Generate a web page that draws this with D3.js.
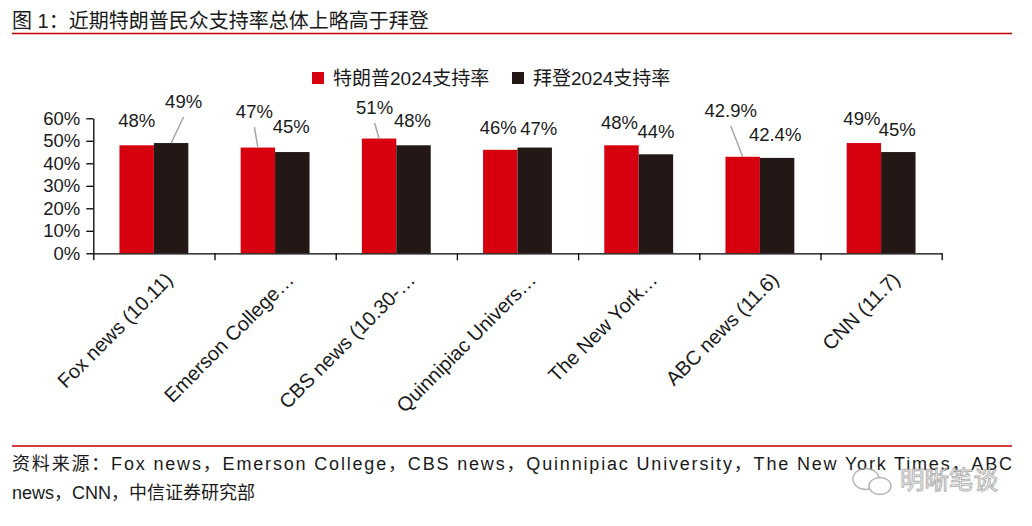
<!DOCTYPE html>
<html>
<head>
<meta charset="utf-8">
<script src="https://cdn.jsdelivr.net/npm/d3@7"></script>
<style>
  body { margin: 0; background: #fff; }
  svg text { font-family: 'Liberation Sans', Arial, 'Noto Sans CJK SC', sans-serif; }
  .cjk { font-family: 'Liberation Sans', 'Noto Sans CJK SC', sans-serif; }
</style>
</head>
<body>
<div id="chart"></div>
<script>
// Chart data
const categories = [
  'Fox news (10.11)', 'Emerson College…', 'CBS news (10.30-…', 'Quinnipiac Univers…',
  'The New York…', 'ABC news (11.6)', 'CNN (11.7)'
];
const seriesNames = ['特朗普2024支持率', '拜登2024支持率'];
const trumpValues = [0.48, 0.47, 0.51, 0.46, 0.48, 0.429, 0.49];
const bidenValues = [0.49, 0.45, 0.48, 0.47, 0.44, 0.424, 0.45];
const yTicks = [0, 0.1, 0.2, 0.3, 0.4, 0.5, 0.6];

const width = 1032;
const height = 526;
const colors = ['#d7000f', '#231815'];

// hand placed label nudges [dx, dy] and leader flags, per series
const labelNudge = [
  [[0, -6.5], [-3.5, -17.5], [-4.5, -12.6], [-2, -3.5], [-2, -4.5], [-12, -28], [-2, -6]],
  [[12.5, -23], [-1, -7], [-1, -6], [4, -1], [0, -4], [-2, -5], [-1, -4]]
];
const leader = [
  [false, true, true, false, false, true, false],
  [true, false, false, false, false, false, false]
];

const svg = d3.select('#chart')
  .append('svg')
  .attr('width', width)
  .attr('height', height)
  .attr('viewBox', [0, 0, width, height]);

// Title + red rules
svg.append('text')
  .attr('class', 'cjk')
  .attr('x', 12).attr('y', 28)
  .style('font-size', '20px')
  .attr('fill', '#1a1a1a')
  .text('图 1：近期特朗普民众支持率总体上略高于拜登');
svg.append('line')
  .attr('x1', 12).attr('x2', 1012).attr('y1', 33.5).attr('y2', 33.5)
  .attr('stroke', '#c00000').attr('stroke-width', 1.5);
svg.append('line')
  .attr('x1', 12).attr('x2', 1012).attr('y1', 446).attr('y2', 446)
  .attr('stroke', '#c00000').attr('stroke-width', 1.5);

// Scales
const x = d3.scaleBand().domain(categories).range([93.3, 941.7]).padding(0);
const xs = d3.scaleBand().domain([0, 1]).range([0, x.bandwidth()]).paddingOuter(0.76).paddingInner(0);
const y = d3.scaleLinear().domain([0, 0.6]).range([253.3, 118.3]);
const xEdge = d3.scaleLinear().domain([0, categories.length]).range(x.range());

const series = [trumpValues, bidenValues];

// Bars
series.forEach((vals, s) => {
  svg.append('g')
    .selectAll('rect')
    .data(vals)
    .join('rect')
    .attr('x', (d, i) => x(categories[i]) + xs(s))
    .attr('y', (d) => y(d))
    .attr('width', xs.bandwidth())
    .attr('height', (d) => y(0) - y(d))
    .attr('fill', colors[s]);
});

// Axes
const yAxis = svg.append('g')
  .attr('transform', 'translate(93.3,0)')
  .call(d3.axisLeft(y).tickValues(yTicks).tickFormat(d3.format('.0%')).tickSize(7).tickSizeOuter(0).tickPadding(6));
const xAxis = svg.append('g')
  .attr('transform', 'translate(0,253.3)')
  .call(d3.axisBottom(xEdge).tickValues(d3.range(categories.length + 1)).tickFormat('').tickSize(7).tickSizeOuter(0));
[yAxis, xAxis].forEach((g) => {
  g.select('.domain').attr('stroke', '#000').attr('stroke-width', 1.3);
  g.selectAll('.tick line').attr('stroke', '#000').attr('stroke-width', 1.3);
});
yAxis.selectAll('.tick text')
  .style('font-size', '18.5px')
  .attr('fill', '#1a1a1a');

// rotated category labels
svg.append('g')
  .selectAll('text')
  .data(categories)
  .join('text')
  .attr('transform', (d) => 'translate(' + (x(d) + x.bandwidth() / 2 + 20) + ',281) rotate(-45)')
  .attr('text-anchor', 'end')
  .style('font-size', '20px')
  .attr('fill', '#1a1a1a')
  .text((d) => d);

// Data labels and leader lines
const fmt = (v) => {
  const p = Math.round(v * 1000) / 10;
  return (Number.isInteger(p) ? p.toFixed(0) : p.toFixed(1)) + '%';
};
series.forEach((vals, s) => {
  vals.forEach((v, i) => {
    const cx = x(categories[i]) + xs(s) + xs.bandwidth() / 2;
    const lx = cx + labelNudge[s][i][0];
    const ly = y(v) - 12 + labelNudge[s][i][1];
    if (leader[s][i]) {
      svg.append('line')
        .attr('x1', lx).attr('y1', ly + 9)
        .attr('x2', cx).attr('y2', y(v))
        .attr('stroke', '#a6a6a6').attr('stroke-width', 1.5);
    }
    svg.append('text')
      .attr('x', lx).attr('y', ly)
      .attr('text-anchor', 'middle')
      .style('font-size', '18.5px')
      .attr('fill', '#1a1a1a')
      .text(fmt(v));
  });
});

// Legend
const legend = svg.append('g').attr('transform', 'translate(312,72)');
const legendX = [0, 200];
seriesNames.forEach((name, s) => {
  legend.append('rect')
    .attr('x', legendX[s]).attr('y', 0)
    .attr('width', 12).attr('height', 12)
    .attr('fill', colors[s]);
  legend.append('text')
    .attr('class', 'cjk')
    .attr('x', legendX[s] + 21).attr('y', 13)
    .style('font-size', '19px')
    .attr('fill', '#1a1a1a')
    .text(name);
});

// Source note
svg.append('text')
  .attr('class', 'cjk')
  .attr('x', 12).attr('y', 470)
  .attr('textLength', 1000)
  .attr('lengthAdjust', 'spacing')
  .style('font-size', '18px')
  .attr('fill', '#1a1a1a')
  .text('资料来源：Fox news，Emerson College，CBS news，Quinnipiac University，The New York Times，ABC');
svg.append('text')
  .attr('class', 'cjk')
  .attr('x', 12).attr('y', 499)
  .style('font-size', '18px')
  .attr('fill', '#1a1a1a')
  .text('news，CNN，中信证券研究部');

// Watermark
const wm = svg.append('g').attr('transform', 'translate(852,468)').attr('opacity', 0.8);
wm.append('ellipse').attr('cx', 14).attr('cy', 11).attr('rx', 13).attr('ry', 10.5)
  .attr('fill', 'none').attr('stroke', '#a0a0a0').attr('stroke-width', 1.4);
wm.append('ellipse').attr('cx', 28).attr('cy', 18).attr('rx', 11).attr('ry', 8.5)
  .attr('fill', '#fff').attr('stroke', '#a0a0a0').attr('stroke-width', 1.4);
wm.append('text')
  .attr('class', 'cjk')
  .attr('x', 48).attr('y', 21)
  .style('font-size', '24.5px')
  .attr('fill', '#fff')
  .attr('stroke', '#a0a0a0')
  .attr('stroke-width', 1)
  .text('明晰笔谈');
</script>
</body>
</html>
